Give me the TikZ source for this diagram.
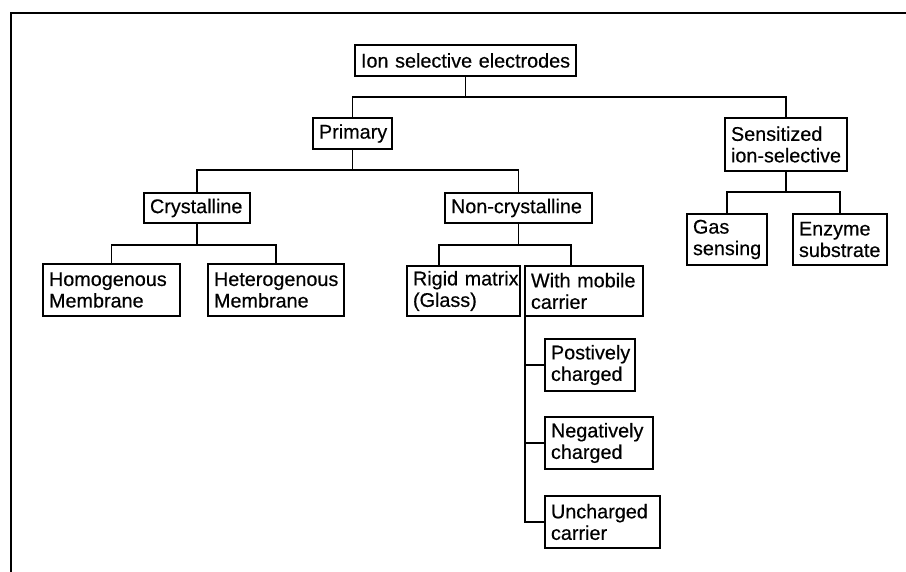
\documentclass[tikz,border=0pt]{standalone}
\usepackage{fontspec}
\setmainfont{Liberation Sans}[FakeBold=0.4]
\begin{document}
\begin{tikzpicture}[x=1pt,y=-1pt,
  bx/.style={draw, line width=1.7pt, outer sep=0pt, inner xsep=6pt, inner ysep=0pt,
    align=left, anchor=north west, font=\fontsize{19.8}{21.5}\selectfont},
  ln/.style={line width=1.7pt}]
\useasboundingbox (0,0) rectangle (906,572);
\newcommand\bxnode[6]{%
  \pgfmathsetmacro\bxw{#4-#2}\pgfmathsetmacro\bxh{#5-#3}\pgfmathsetmacro\bxt{#4-#2-12}%
  \node[bx, minimum width=\bxw pt, minimum height=\bxh pt, text width=\bxt pt] (#1) at (#2,#3) {#6};}
% frame
\draw[line width=2pt] (11,572) -- (11,13) -- (906,13);
% nodes
\bxnode{ion}{355}{45}{576}{76}{\mbox{Ion selective electrodes}}
\bxnode{prim}{313}{118}{392}{149}{\mbox{Primary}}
\bxnode{sens}{725}{118}{847}{171}{\mbox{Sensitized}\\\mbox{ion-selective}}
\bxnode{cry}{144}{193}{250}{223}{\mbox{Crystalline}}
\bxnode{non}{445}{193}{592}{223}{\mbox{Non-crystalline}}
\bxnode{hom}{43}{264}{180}{316}{\mbox{Homogenous}\\\mbox{Membrane}}
\bxnode{het}{208}{264}{344}{316}{\mbox{Heterogenous}\\\mbox{Membrane}}
\bxnode{rig}{407}{266}{520}{316}{\mbox{Rigid matrix}\\\mbox{(Glass)}}
\bxnode{mob}{525}{266}{643}{316}{\mbox{With mobile}\\\mbox{carrier}}
\bxnode{pos}{545}{339}{635}{391}{\mbox{Postively}\\\mbox{charged}}
\bxnode{neg}{545}{417}{653}{469}{\mbox{Negatively}\\\mbox{charged}}
\bxnode{unc}{545}{496}{660}{548}{\mbox{Uncharged}\\\mbox{carrier}}
\bxnode{gas}{687}{214}{767}{265}{\mbox{Gas}\\\mbox{sensing}}
\bxnode{enz}{793}{214}{887}{265}{\mbox{Enzyme}\\\mbox{substrate}}
% connectors
\draw[ln] (ion.south) -- ++(0,21) coordinate (j1);
\draw[ln] (prim.north) |- (j1) -| (sens.north);
\draw[ln] (prim.south) -- ++(0,21) coordinate (j2);
\draw[ln] (cry.north) |- (j2) -| (non.north);
\draw[ln] (cry.south) -- ++(0,22) coordinate (j3);
\draw[ln] (hom.north) |- (j3) -| (het.north);
\draw[ln] (non.south) -- ++(0,22) coordinate (j4);
\draw[ln] ([xshift=32pt]rig.north west) |- (j4) -| ([xshift=46pt]mob.north west);
\draw[ln] (mob.south west) |- (unc.west);
\draw[ln] (mob.south west |- pos.west) -- (pos.west);
\draw[ln] (mob.south west |- neg.west) -- (neg.west);
\draw[ln] (sens.south) -- ++(0,21) coordinate (j5);
\draw[ln] (gas.north) |- (j5) -| (enz.north);
\end{tikzpicture}
\end{document}
